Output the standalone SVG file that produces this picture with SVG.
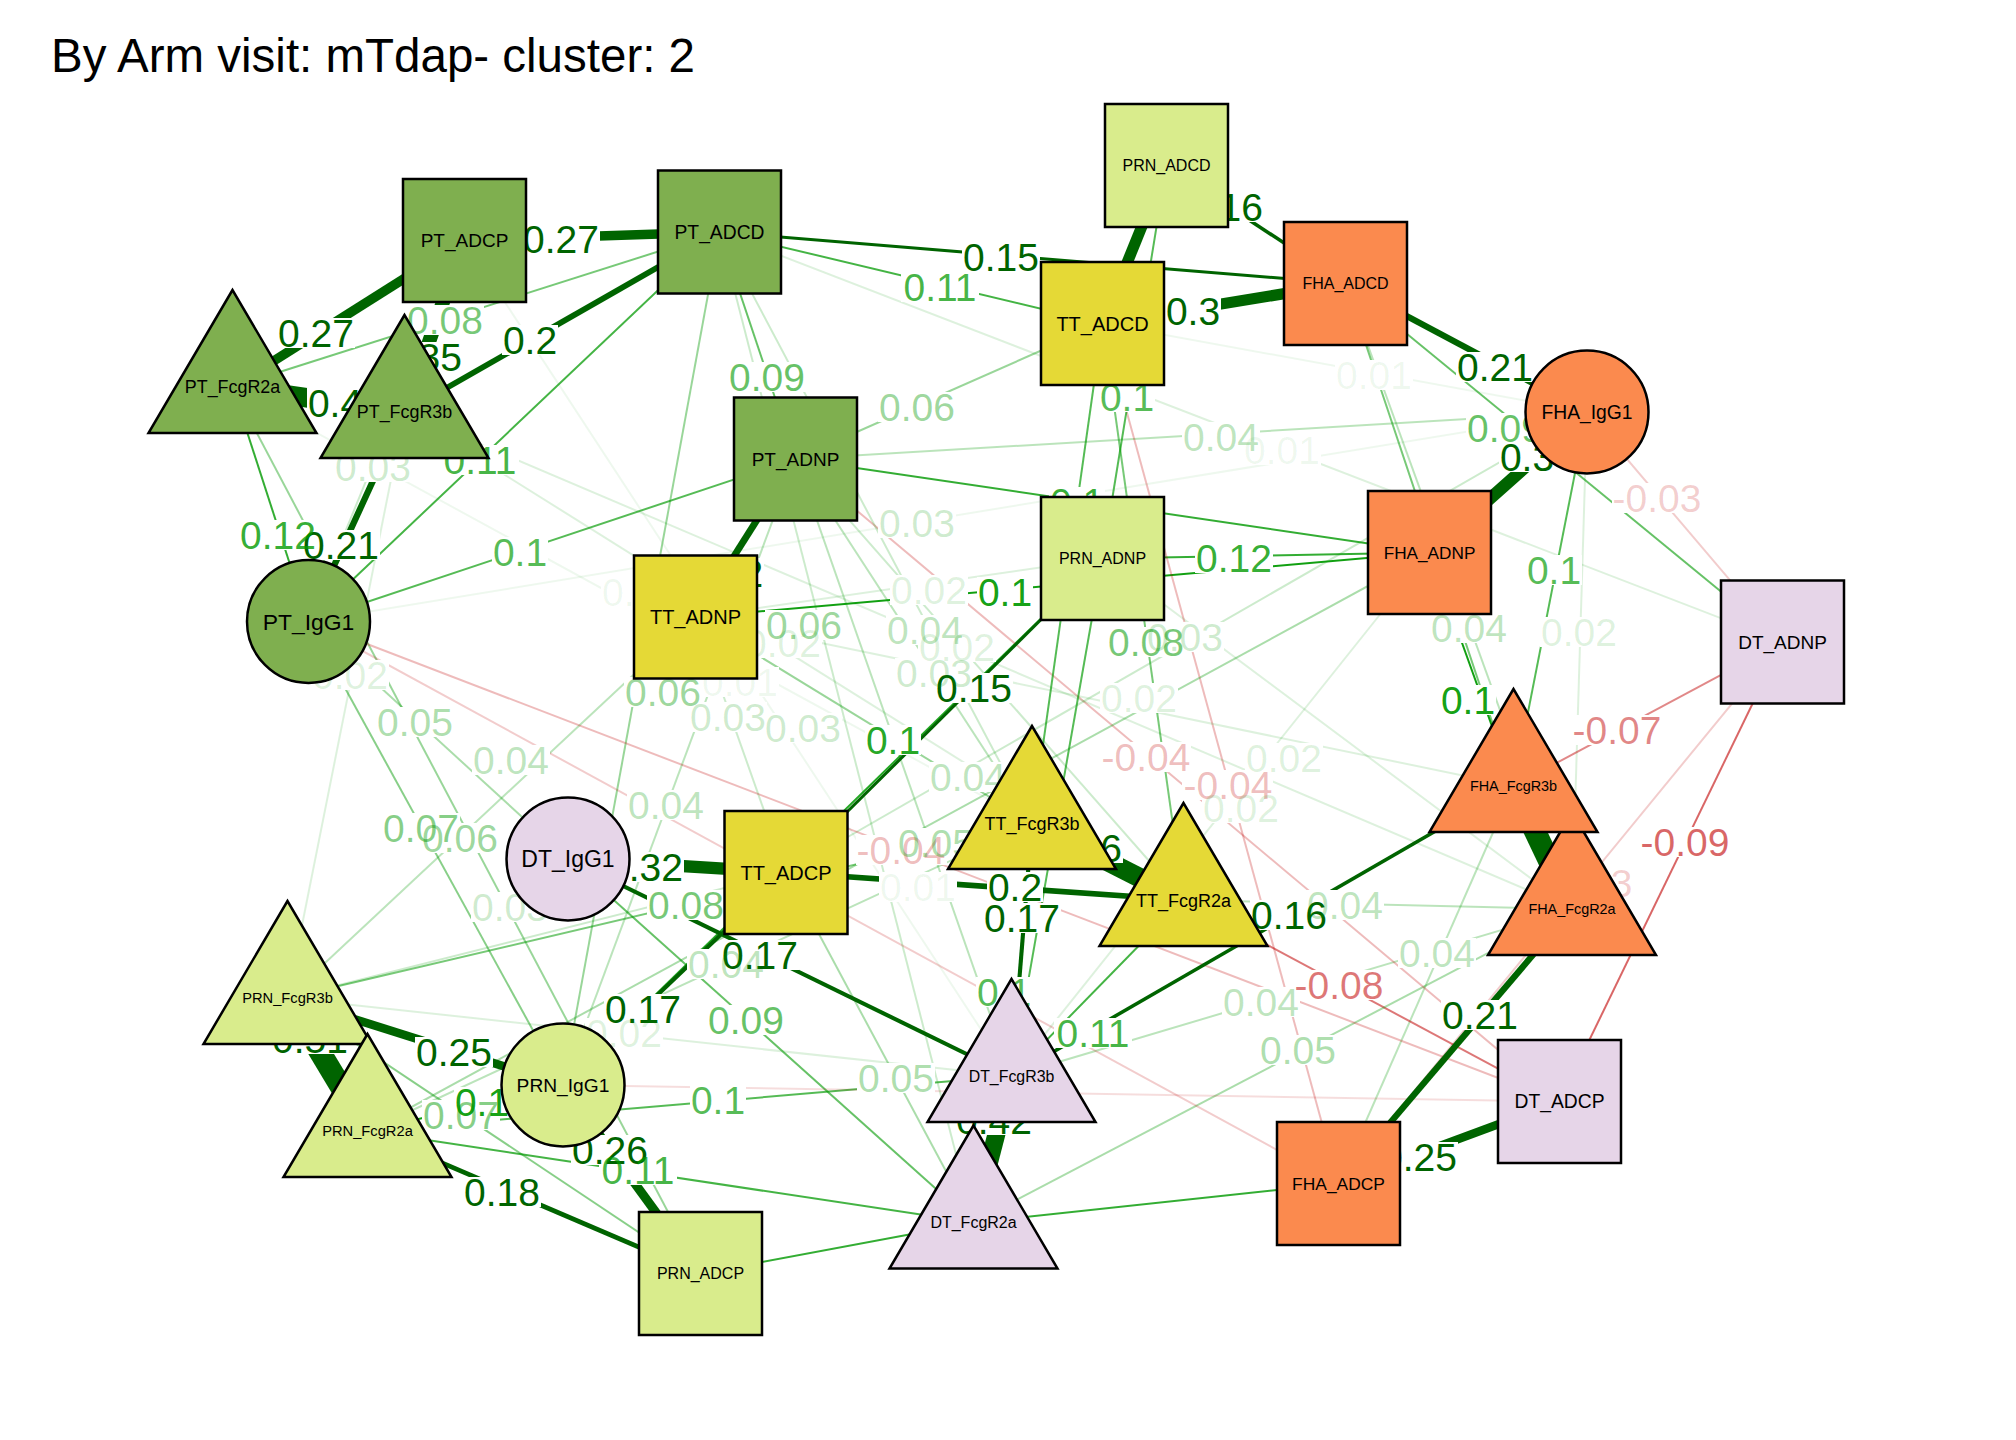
<svg xmlns="http://www.w3.org/2000/svg" width="2016" height="1440" viewBox="0 0 2016 1440">
<style>
.e{fill:none;stroke-linecap:butt}
.p{stroke:#009900;stroke-width:2}
.n{stroke:#BF0000;stroke-width:2}
.d{stroke:#006400}
.lb{fill:#fff}
.t{font-family:'Liberation Sans',Arial,sans-serif;font-size:39px;text-anchor:middle}
.tp{fill:#009900}
.tn{fill:#BF0000}
.td{fill:#006400}
.nl{font-family:'Liberation Sans',Arial,sans-serif;text-anchor:middle;fill:#000}
.nd{stroke:#000;stroke-width:2.5}
.pt{fill:#7FAF4F}
.tt{fill:#E5D936}
.prn{fill:#D9EC8C}
.fha{fill:#FB8A4E}
.dt{fill:#E6D5E8}
</style>
<rect width="2016" height="1440" fill="#fff"/>
<text x="51" y="72" font-family="'Liberation Sans',Arial,sans-serif" font-size="47.5" fill="#000">By Arm visit: mTdap- cluster: 2</text>
<g id="edges">
<line class="e p" x1="464.5" y1="240.5" x2="308.5" y2="621.5" stroke-opacity=".2"/>
<line class="e p" x1="464.5" y1="240.5" x2="1011.5" y2="1076" stroke-opacity=".067"/>
<line class="e p" x1="232.5" y1="387" x2="719.5" y2="232" stroke-opacity=".533"/>
<line class="e p" x1="719.5" y1="232" x2="1102.5" y2="323.5" stroke-opacity=".733"/>
<line class="e p" x1="719.5" y1="232" x2="795.5" y2="459" stroke-opacity=".6"/>
<line class="e p" x1="1102.5" y1="323.5" x2="1587" y2="412" stroke-opacity=".067"/>
<line class="e p" x1="795.5" y1="459" x2="1102.5" y2="323.5" stroke-opacity=".4"/>
<line class="e p" x1="1345.5" y1="283.5" x2="1782.5" y2="642" stroke-opacity=".6"/>
<line class="e p" x1="795.5" y1="459" x2="1587" y2="412" stroke-opacity=".267"/>
<line class="e p" x1="308.5" y1="621.5" x2="1587" y2="412" stroke-opacity=".067"/>
<line class="e p" x1="308.5" y1="621.5" x2="719.5" y2="232" stroke-opacity=".733"/>
<line class="e n" x1="1587" y1="412" x2="1782.5" y2="642" stroke-opacity=".2"/>
<line class="e p" x1="1587" y1="412" x2="1513.5" y2="786" stroke-opacity=".667"/>
<line class="e p" x1="1587" y1="412" x2="1572" y2="909" stroke-opacity=".133"/>
<line class="e p" x1="232.5" y1="387" x2="308.5" y2="621.5" stroke-opacity=".8"/>
<line class="e p" x1="308.5" y1="621.5" x2="795.5" y2="459" stroke-opacity=".667"/>
<line class="e p" x1="1102.5" y1="558.5" x2="1429.5" y2="552.5" stroke-opacity=".8"/>
<line class="e p" x1="695.5" y1="617" x2="1429.5" y2="552.5" stroke-opacity=".933"/>
<line class="e p" x1="695.5" y1="617" x2="1102.5" y2="558.5" stroke-opacity=".133"/>
<line class="e p" x1="308.5" y1="621.5" x2="568" y2="859" stroke-opacity=".333"/>
<line class="e p" x1="563" y1="1085" x2="1102.5" y2="558.5" stroke-opacity=".867"/>
<line class="e p" x1="568" y1="859" x2="973.5" y2="1222.5" stroke-opacity=".6"/>
<line class="e p" x1="367.5" y1="1131" x2="973.5" y2="1222.5" stroke-opacity=".733"/>
<line class="e p" x1="367.5" y1="1131" x2="1011.5" y2="1076" stroke-opacity=".667"/>
<line class="e p" x1="287.5" y1="998" x2="1011.5" y2="1076" stroke-opacity=".133"/>
<line class="e p" x1="786" y1="872.5" x2="973.5" y2="1222.5" stroke-opacity=".333"/>
<line class="e p" x1="1183.5" y1="900" x2="1011.5" y2="1076" stroke-opacity=".733"/>
<line class="e p" x1="1183.5" y1="900" x2="1572" y2="909" stroke-opacity=".267"/>
<line class="e p" x1="1338.5" y1="1183.5" x2="1513.5" y2="786" stroke-opacity=".267"/>
<line class="e n" x1="1183.5" y1="900" x2="1559.5" y2="1101.5" stroke-opacity=".533"/>
<line class="e p" x1="973.5" y1="1222.5" x2="1572" y2="909" stroke-opacity=".333"/>
<line class="e p" x1="1011.5" y1="1076" x2="1572" y2="909" stroke-opacity=".267"/>
<line class="e n" x1="1513.5" y1="786" x2="1782.5" y2="642" stroke-opacity=".467"/>
<line class="e n" x1="1782.5" y1="642" x2="1559.5" y2="1101.5" stroke-opacity=".6"/>
<line class="e n" x1="1338.5" y1="1183.5" x2="1782.5" y2="642" stroke-opacity=".2"/>
<line class="e p" x1="1429.5" y1="552.5" x2="1513.5" y2="786" stroke-opacity=".933"/>
<line class="e p" x1="1345.5" y1="283.5" x2="1572" y2="909" stroke-opacity=".267"/>
<line class="e p" x1="1345.5" y1="283.5" x2="1513.5" y2="786" stroke-opacity=".533"/>
<line class="e p" x1="1102.5" y1="558.5" x2="1572" y2="909" stroke-opacity=".133"/>
<line class="e n" x1="795.5" y1="459" x2="1559.5" y2="1101.5" stroke-opacity=".267"/>
<line class="e n" x1="1102.5" y1="323.5" x2="1338.5" y2="1183.5" stroke-opacity=".267"/>
<line class="e p" x1="1429.5" y1="552.5" x2="1011.5" y2="1076" stroke-opacity=".133"/>
<line class="e p" x1="695.5" y1="617" x2="1513.5" y2="786" stroke-opacity=".133"/>
<line class="e p" x1="1102.5" y1="323.5" x2="1183.5" y2="900" stroke-opacity=".533"/>
<line class="e p" x1="1587" y1="412" x2="786" y2="872.5" stroke-opacity=".2"/>
<line class="e p" x1="795.5" y1="459" x2="1429.5" y2="552.5" stroke-opacity=".8"/>
<line class="e p" x1="1102.5" y1="323.5" x2="1032" y2="823" stroke-opacity=".667"/>
<line class="e p" x1="1166.5" y1="165.5" x2="1102.5" y2="558.5" stroke-opacity=".667"/>
<line class="e p" x1="719.5" y1="232" x2="1032" y2="823" stroke-opacity=".2"/>
<line class="e p" x1="695.5" y1="617" x2="1032" y2="823" stroke-opacity=".4"/>
<line class="e p" x1="404.5" y1="412" x2="1183.5" y2="900" stroke-opacity=".133"/>
<line class="e p" x1="795.5" y1="459" x2="1032" y2="823" stroke-opacity=".267"/>
<line class="e p" x1="404.5" y1="412" x2="1572" y2="909" stroke-opacity=".133"/>
<line class="e p" x1="795.5" y1="459" x2="1183.5" y2="900" stroke-opacity=".2"/>
<line class="e p" x1="232.5" y1="387" x2="1032" y2="823" stroke-opacity=".067"/>
<line class="e p" x1="719.5" y1="232" x2="563" y2="1085" stroke-opacity=".4"/>
<line class="e p" x1="695.5" y1="617" x2="786" y2="872.5" stroke-opacity=".2"/>
<line class="e p" x1="719.5" y1="232" x2="973.5" y2="1222.5" stroke-opacity=".2"/>
<line class="e p" x1="795.5" y1="459" x2="563" y2="1085" stroke-opacity=".267"/>
<line class="e p" x1="287.5" y1="998" x2="695.5" y2="617" stroke-opacity=".267"/>
<line class="e p" x1="308.5" y1="621.5" x2="563" y2="1085" stroke-opacity=".467"/>
<line class="e p" x1="232.5" y1="387" x2="700.5" y2="1273.5" stroke-opacity=".4"/>
<line class="e p" x1="287.5" y1="998" x2="786" y2="872.5" stroke-opacity=".2"/>
<line class="e p" x1="287.5" y1="998" x2="1032" y2="823" stroke-opacity=".533"/>
<line class="e n" x1="308.5" y1="621.5" x2="1559.5" y2="1101.5" stroke-opacity=".267"/>
<line class="e p" x1="367.5" y1="1131" x2="1429.5" y2="552.5" stroke-opacity=".333"/>
<line class="e p" x1="568" y1="859" x2="1183.5" y2="900" stroke-opacity=".067"/>
<line class="e p" x1="795.5" y1="459" x2="1011.5" y2="1076" stroke-opacity=".267"/>
<line class="e p" x1="367.5" y1="1131" x2="1032" y2="823" stroke-opacity=".267"/>
<line class="e p" x1="404.5" y1="412" x2="287.5" y2="998" stroke-opacity=".133"/>
<line class="e p" x1="287.5" y1="998" x2="700.5" y2="1273.5" stroke-opacity=".467"/>
<line class="e p" x1="367.5" y1="1131" x2="563" y2="1085" stroke-opacity=".933"/>
<line class="e p" x1="1102.5" y1="558.5" x2="1011.5" y2="1076" stroke-opacity=".667"/>
<line class="e n" x1="308.5" y1="621.5" x2="1338.5" y2="1183.5" stroke-opacity=".2"/>
<line class="e n" x1="563" y1="1085" x2="1559.5" y2="1101.5" stroke-opacity=".133"/>
<line class="e p" x1="973.5" y1="1222.5" x2="1338.5" y2="1183.5" stroke-opacity=".8"/>
<line class="e p" x1="700.5" y1="1273.5" x2="973.5" y2="1222.5" stroke-opacity=".8"/>
<line class="e p" x1="719.5" y1="232" x2="1782.5" y2="642" stroke-opacity=".133"/>
<line class="e d" x1="464.5" y1="240.5" x2="719.5" y2="232" stroke-width="9.6"/>
<line class="e d" x1="464.5" y1="240.5" x2="232.5" y2="387" stroke-width="9.6"/>
<line class="e d" x1="464.5" y1="240.5" x2="404.5" y2="412" stroke-width="14"/>
<line class="e d" x1="404.5" y1="412" x2="719.5" y2="232" stroke-width="5.75"/>
<line class="e d" x1="232.5" y1="387" x2="404.5" y2="412" stroke-width="19.5"/>
<line class="e d" x1="1166.5" y1="165.5" x2="1345.5" y2="283.5" stroke-width="3.55"/>
<line class="e d" x1="719.5" y1="232" x2="1345.5" y2="283.5" stroke-width="3"/>
<line class="e d" x1="1102.5" y1="323.5" x2="1345.5" y2="283.5" stroke-width="11.25"/>
<line class="e d" x1="1345.5" y1="283.5" x2="1587" y2="412" stroke-width="6.3"/>
<line class="e d" x1="1166.5" y1="165.5" x2="1102.5" y2="323.5" stroke-width="11.25"/>
<line class="e d" x1="1429.5" y1="552.5" x2="1587" y2="412" stroke-width="12.35"/>
<line class="e d" x1="308.5" y1="621.5" x2="404.5" y2="412" stroke-width="6.3"/>
<line class="e d" x1="795.5" y1="459" x2="695.5" y2="617" stroke-width="6.85"/>
<line class="e d" x1="1102.5" y1="558.5" x2="786" y2="872.5" stroke-width="3"/>
<line class="e d" x1="568" y1="859" x2="786" y2="872.5" stroke-width="12.35"/>
<line class="e d" x1="786" y1="872.5" x2="1183.5" y2="900" stroke-width="5.75"/>
<line class="e d" x1="1032" y1="823" x2="1183.5" y2="900" stroke-width="19.5"/>
<line class="e d" x1="1032" y1="823" x2="1011.5" y2="1076" stroke-width="4.1"/>
<line class="e d" x1="568" y1="859" x2="1011.5" y2="1076" stroke-width="4.1"/>
<line class="e d" x1="563" y1="1085" x2="786" y2="872.5" stroke-width="4.1"/>
<line class="e d" x1="287.5" y1="998" x2="563" y2="1085" stroke-width="8.5"/>
<line class="e d" x1="287.5" y1="998" x2="367.5" y2="1131" stroke-width="22"/>
<line class="e d" x1="563" y1="1085" x2="700.5" y2="1273.5" stroke-width="9"/>
<line class="e d" x1="367.5" y1="1131" x2="700.5" y2="1273.5" stroke-width="4.65"/>
<line class="e d" x1="1011.5" y1="1076" x2="973.5" y2="1222.5" stroke-width="17.85"/>
<line class="e d" x1="1513.5" y1="786" x2="1011.5" y2="1076" stroke-width="3.55"/>
<line class="e d" x1="1338.5" y1="1183.5" x2="1572" y2="909" stroke-width="6.3"/>
<line class="e d" x1="1338.5" y1="1183.5" x2="1559.5" y2="1101.5" stroke-width="8.5"/>
<line class="e d" x1="1513.5" y1="786" x2="1572" y2="909" stroke-width="22"/>
</g>
<g id="edge-label-bg">
<rect class="lb" x="522" y="224" width="78" height="30"/>
<rect class="lb" x="277" y="318" width="78" height="30"/>
<rect class="lb" x="385" y="342" width="78" height="30"/>
<rect class="lb" x="502" y="325" width="56" height="30"/>
<rect class="lb" x="307" y="388" width="56" height="30"/>
<rect class="lb" x="1186" y="192" width="78" height="30"/>
<rect class="lb" x="962" y="242" width="78" height="30"/>
<rect class="lb" x="1165" y="296" width="56" height="30"/>
<rect class="lb" x="1456" y="352" width="78" height="30"/>
<rect class="lb" x="1499" y="442" width="56" height="30"/>
<rect class="lb" x="302" y="530" width="78" height="30"/>
<rect class="lb" x="708" y="558" width="56" height="30"/>
<rect class="lb" x="935" y="673" width="78" height="30"/>
<rect class="lb" x="606" y="852" width="78" height="30"/>
<rect class="lb" x="987" y="872" width="56" height="30"/>
<rect class="lb" x="1099" y="833" width="24" height="30"/>
<rect class="lb" x="983" y="903" width="78" height="30"/>
<rect class="lb" x="721" y="940" width="78" height="30"/>
<rect class="lb" x="604" y="994" width="78" height="30"/>
<rect class="lb" x="415" y="1037" width="78" height="30"/>
<rect class="lb" x="271" y="1024" width="78" height="30"/>
<rect class="lb" x="571" y="1135" width="78" height="30"/>
<rect class="lb" x="463" y="1177" width="78" height="30"/>
<rect class="lb" x="955" y="1105" width="78" height="30"/>
<rect class="lb" x="1250" y="900" width="78" height="30"/>
<rect class="lb" x="1441" y="1000" width="78" height="30"/>
<rect class="lb" x="1380" y="1142" width="78" height="30"/>
<rect class="lb" x="406" y="305" width="78" height="30"/>
<rect class="lb" x="901" y="272" width="78" height="30"/>
<rect class="lb" x="728" y="362" width="78" height="30"/>
<rect class="lb" x="1335" y="360" width="78" height="30"/>
<rect class="lb" x="878" y="392" width="78" height="30"/>
<rect class="lb" x="1466" y="413" width="78" height="30"/>
<rect class="lb" x="1182" y="422" width="78" height="30"/>
<rect class="lb" x="1243" y="435" width="78" height="30"/>
<rect class="lb" x="441" y="445" width="78" height="30"/>
<rect class="lb" x="1612" y="483" width="91" height="30"/>
<rect class="lb" x="1526" y="555" width="56" height="30"/>
<rect class="lb" x="1540" y="617" width="78" height="30"/>
<rect class="lb" x="239" y="520" width="78" height="30"/>
<rect class="lb" x="492" y="537" width="56" height="30"/>
<rect class="lb" x="1195" y="543" width="78" height="30"/>
<rect class="lb" x="977" y="577" width="56" height="30"/>
<rect class="lb" x="890" y="575" width="78" height="30"/>
<rect class="lb" x="376" y="707" width="78" height="30"/>
<rect class="lb" x="865" y="725" width="56" height="30"/>
<rect class="lb" x="707" y="1005" width="78" height="30"/>
<rect class="lb" x="599" y="1155" width="78" height="30"/>
<rect class="lb" x="690" y="1085" width="56" height="30"/>
<rect class="lb" x="585" y="1018" width="78" height="30"/>
<rect class="lb" x="857" y="1063" width="78" height="30"/>
<rect class="lb" x="1054" y="1018" width="78" height="30"/>
<rect class="lb" x="1306" y="890" width="78" height="30"/>
<rect class="lb" x="1398" y="938" width="78" height="30"/>
<rect class="lb" x="1293" y="970" width="91" height="30"/>
<rect class="lb" x="1259" y="1035" width="78" height="30"/>
<rect class="lb" x="1222" y="987" width="78" height="30"/>
<rect class="lb" x="1571" y="715" width="91" height="30"/>
<rect class="lb" x="1639" y="827" width="91" height="30"/>
<rect class="lb" x="1542" y="868" width="91" height="30"/>
<rect class="lb" x="1440" y="685" width="56" height="30"/>
<rect class="lb" x="1430" y="613" width="78" height="30"/>
<rect class="lb" x="1245" y="743" width="78" height="30"/>
<rect class="lb" x="1100" y="742" width="91" height="30"/>
<rect class="lb" x="1182" y="770" width="91" height="30"/>
<rect class="lb" x="1202" y="793" width="78" height="30"/>
<rect class="lb" x="1100" y="683" width="78" height="30"/>
<rect class="lb" x="1107" y="627" width="78" height="30"/>
<rect class="lb" x="1146" y="622" width="78" height="30"/>
<rect class="lb" x="1049" y="487" width="56" height="30"/>
<rect class="lb" x="1099" y="382" width="56" height="30"/>
<rect class="lb" x="878" y="508" width="78" height="30"/>
<rect class="lb" x="765" y="610" width="78" height="30"/>
<rect class="lb" x="744" y="628" width="78" height="30"/>
<rect class="lb" x="886" y="615" width="78" height="30"/>
<rect class="lb" x="918" y="632" width="78" height="30"/>
<rect class="lb" x="895" y="658" width="78" height="30"/>
<rect class="lb" x="601" y="577" width="78" height="30"/>
<rect class="lb" x="624" y="677" width="78" height="30"/>
<rect class="lb" x="701" y="667" width="78" height="30"/>
<rect class="lb" x="689" y="702" width="78" height="30"/>
<rect class="lb" x="764" y="713" width="78" height="30"/>
<rect class="lb" x="627" y="790" width="78" height="30"/>
<rect class="lb" x="472" y="745" width="78" height="30"/>
<rect class="lb" x="382" y="813" width="78" height="30"/>
<rect class="lb" x="421" y="823" width="78" height="30"/>
<rect class="lb" x="471" y="892" width="78" height="30"/>
<rect class="lb" x="647" y="890" width="78" height="30"/>
<rect class="lb" x="856" y="835" width="91" height="30"/>
<rect class="lb" x="897" y="828" width="78" height="30"/>
<rect class="lb" x="879" y="872" width="78" height="30"/>
<rect class="lb" x="929" y="762" width="78" height="30"/>
<rect class="lb" x="687" y="949" width="78" height="30"/>
<rect class="lb" x="311" y="660" width="78" height="30"/>
<rect class="lb" x="334" y="452" width="78" height="30"/>
<rect class="lb" x="422" y="1100" width="78" height="30"/>
<rect class="lb" x="454" y="1087" width="56" height="30"/>
<rect class="lb" x="976" y="977" width="56" height="30"/>
</g>
<g id="edge-labels" class="t">
<text class="td" x="561" y="253">0.27</text>
<text class="td" x="316" y="347">0.27</text>
<text class="td" x="424" y="371">0.35</text>
<text class="td" x="530" y="354">0.2</text>
<text class="td" x="335" y="417">0.4</text>
<text class="td" x="1225" y="221">0.16</text>
<text class="td" x="1001" y="271">0.15</text>
<text class="td" x="1193" y="325">0.3</text>
<text class="td" x="1495" y="381">0.21</text>
<text class="td" x="1527" y="471">0.3</text>
<text class="td" x="341" y="559">0.21</text>
<text class="td" x="736" y="587">0.2</text>
<text class="td" x="974" y="702">0.15</text>
<text class="td" x="645" y="881">0.32</text>
<text class="td" x="1015" y="901">0.2</text>
<text class="td" x="1111" y="862">6</text>
<text class="td" x="1022" y="932">0.17</text>
<text class="td" x="760" y="969">0.17</text>
<text class="td" x="643" y="1023">0.17</text>
<text class="td" x="454" y="1066">0.25</text>
<text class="td" x="310" y="1053">0.51</text>
<text class="td" x="610" y="1164">0.26</text>
<text class="td" x="502" y="1206">0.18</text>
<text class="td" x="994" y="1134">0.42</text>
<text class="td" x="1289" y="929">0.16</text>
<text class="td" x="1480" y="1029">0.21</text>
<text class="td" x="1419" y="1171">0.25</text>
<text class="tp" fill-opacity=".533" x="445" y="334">0.08</text>
<text class="tp" fill-opacity=".733" x="940" y="301">0.11</text>
<text class="tp" fill-opacity=".6" x="767" y="391">0.09</text>
<text class="tp" fill-opacity=".067" x="1374" y="389">0.01</text>
<text class="tp" fill-opacity=".4" x="917" y="421">0.06</text>
<text class="tp" fill-opacity=".6" x="1505" y="442">0.09</text>
<text class="tp" fill-opacity=".267" x="1221" y="451">0.04</text>
<text class="tp" fill-opacity=".067" x="1282" y="464">0.01</text>
<text class="tp" fill-opacity=".733" x="480" y="474">0.11</text>
<text class="tn" fill-opacity=".2" x="1657" y="512">-0.03</text>
<text class="tp" fill-opacity=".667" x="1554" y="584">0.1</text>
<text class="tp" fill-opacity=".133" x="1579" y="646">0.02</text>
<text class="tp" fill-opacity=".8" x="278" y="549">0.12</text>
<text class="tp" fill-opacity=".667" x="520" y="566">0.1</text>
<text class="tp" fill-opacity=".8" x="1234" y="572">0.12</text>
<text class="tp" fill-opacity=".933" x="1005" y="606">0.1</text>
<text class="tp" fill-opacity=".133" x="929" y="604">0.02</text>
<text class="tp" fill-opacity=".333" x="415" y="736">0.05</text>
<text class="tp" fill-opacity=".867" x="893" y="754">0.1</text>
<text class="tp" fill-opacity=".6" x="746" y="1034">0.09</text>
<text class="tp" fill-opacity=".733" x="638" y="1184">0.11</text>
<text class="tp" fill-opacity=".667" x="718" y="1114">0.1</text>
<text class="tp" fill-opacity=".133" x="624" y="1047">0.02</text>
<text class="tp" fill-opacity=".333" x="896" y="1092">0.05</text>
<text class="tp" fill-opacity=".733" x="1093" y="1047">0.11</text>
<text class="tp" fill-opacity=".267" x="1345" y="919">0.04</text>
<text class="tp" fill-opacity=".267" x="1437" y="967">0.04</text>
<text class="tn" fill-opacity=".533" x="1339" y="999">-0.08</text>
<text class="tp" fill-opacity=".333" x="1298" y="1064">0.05</text>
<text class="tp" fill-opacity=".267" x="1261" y="1016">0.04</text>
<text class="tn" fill-opacity=".467" x="1617" y="744">-0.07</text>
<text class="tn" fill-opacity=".6" x="1685" y="856">-0.09</text>
<text class="tn" fill-opacity=".2" x="1588" y="897">-0.03</text>
<text class="tp" fill-opacity=".933" x="1468" y="714">0.1</text>
<text class="tp" fill-opacity=".267" x="1469" y="642">0.04</text>
<text class="tp" fill-opacity=".133" x="1284" y="772">0.02</text>
<text class="tn" fill-opacity=".267" x="1146" y="771">-0.04</text>
<text class="tn" fill-opacity=".267" x="1228" y="799">-0.04</text>
<text class="tp" fill-opacity=".133" x="1241" y="822">0.02</text>
<text class="tp" fill-opacity=".133" x="1139" y="712">0.02</text>
<text class="tp" fill-opacity=".533" x="1146" y="656">0.08</text>
<text class="tp" fill-opacity=".2" x="1185" y="651">0.03</text>
<text class="tp" fill-opacity=".8" x="1077" y="516">0.1</text>
<text class="tp" fill-opacity=".667" x="1127" y="411">0.1</text>
<text class="tp" fill-opacity=".2" x="917" y="537">0.03</text>
<text class="tp" fill-opacity=".4" x="804" y="639">0.06</text>
<text class="tp" fill-opacity=".133" x="783" y="657">0.02</text>
<text class="tp" fill-opacity=".267" x="925" y="644">0.04</text>
<text class="tp" fill-opacity=".133" x="957" y="661">0.02</text>
<text class="tp" fill-opacity=".2" x="934" y="687">0.03</text>
<text class="tp" fill-opacity=".067" x="640" y="606">0.01</text>
<text class="tp" fill-opacity=".4" x="663" y="706">0.06</text>
<text class="tp" fill-opacity=".067" x="740" y="696">0.01</text>
<text class="tp" fill-opacity=".2" x="728" y="731">0.03</text>
<text class="tp" fill-opacity=".2" x="803" y="742">0.03</text>
<text class="tp" fill-opacity=".267" x="666" y="819">0.04</text>
<text class="tp" fill-opacity=".267" x="511" y="774">0.04</text>
<text class="tp" fill-opacity=".467" x="421" y="842">0.07</text>
<text class="tp" fill-opacity=".4" x="460" y="852">0.06</text>
<text class="tp" fill-opacity=".2" x="510" y="921">0.03</text>
<text class="tp" fill-opacity=".533" x="686" y="919">0.08</text>
<text class="tn" fill-opacity=".267" x="901" y="864">-0.04</text>
<text class="tp" fill-opacity=".333" x="936" y="857">0.05</text>
<text class="tp" fill-opacity=".067" x="918" y="901">0.01</text>
<text class="tp" fill-opacity=".267" x="968" y="791">0.04</text>
<text class="tp" fill-opacity=".267" x="726" y="978">0.04</text>
<text class="tp" fill-opacity=".133" x="350" y="689">0.02</text>
<text class="tp" fill-opacity=".2" x="373" y="481">0.03</text>
<text class="tp" fill-opacity=".467" x="461" y="1129">0.07</text>
<text class="tp" fill-opacity=".933" x="482" y="1116">0.1</text>
<text class="tp" fill-opacity=".667" x="1004" y="1006">0.1</text>
</g>
<g id="PT_ADCP"><rect class="nd pt" x="403" y="179" width="123" height="123"/><text class="nl" x="464.5" y="247.3" font-size="19">PT_ADCP</text></g>
<g id="PT_ADCD"><rect class="nd pt" x="658" y="170.5" width="123" height="123"/><text class="nl" x="719.5" y="239" font-size="19.3">PT_ADCD</text></g>
<g id="PT_ADNP"><rect class="nd pt" x="734" y="397.5" width="123" height="123"/><text class="nl" x="795.5" y="465.8" font-size="19">PT_ADNP</text></g>
<g id="PRN_ADCD"><rect class="nd prn" x="1105" y="104" width="123" height="123"/><text class="nl" x="1166.5" y="171.3" font-size="16">PRN_ADCD</text></g>
<g id="TT_ADCD"><rect class="nd tt" x="1041" y="262" width="123" height="123"/><text class="nl" x="1102.5" y="330.7" font-size="20">TT_ADCD</text></g>
<g id="FHA_ADCD"><rect class="nd fha" x="1284" y="222" width="123" height="123"/><text class="nl" x="1345.5" y="289.3" font-size="16">FHA_ADCD</text></g>
<g id="PRN_ADNP"><rect class="nd prn" x="1041" y="497" width="123" height="123"/><text class="nl" x="1102.5" y="564.3" font-size="16">PRN_ADNP</text></g>
<g id="FHA_ADNP"><rect class="nd fha" x="1368" y="491" width="123" height="123"/><text class="nl" x="1429.5" y="558.7" font-size="17.2">FHA_ADNP</text></g>
<g id="TT_ADNP"><rect class="nd tt" x="634" y="555.5" width="123" height="123"/><text class="nl" x="695.5" y="624.2" font-size="20">TT_ADNP</text></g>
<g id="DT_ADNP"><rect class="nd dt" x="1721" y="580.5" width="123" height="123"/><text class="nl" x="1782.5" y="648.8" font-size="19">DT_ADNP</text></g>
<g id="TT_ADCP"><rect class="nd tt" x="724.5" y="811" width="123" height="123"/><text class="nl" x="786" y="879.7" font-size="20">TT_ADCP</text></g>
<g id="FHA_ADCP"><rect class="nd fha" x="1277" y="1122" width="123" height="123"/><text class="nl" x="1338.5" y="1189.8" font-size="17.4">FHA_ADCP</text></g>
<g id="DT_ADCP"><rect class="nd dt" x="1498" y="1040" width="123" height="123"/><text class="nl" x="1559.5" y="1108.4" font-size="19.3">DT_ADCP</text></g>
<g id="PRN_ADCP"><rect class="nd prn" x="639" y="1212" width="123" height="123"/><text class="nl" x="700.5" y="1279.3" font-size="16">PRN_ADCP</text></g>
<g id="PT_IgG1"><circle class="nd pt" cx="308.5" cy="621.5" r="61.5"/><text class="nl" x="308.5" y="629.7" font-size="22.9">PT_IgG1</text></g>
<g id="FHA_IgG1"><circle class="nd fha" cx="1587" cy="412" r="61.5"/><text class="nl" x="1587" y="419" font-size="19.3">FHA_IgG1</text></g>
<g id="DT_IgG1"><circle class="nd dt" cx="568" cy="859" r="61.5"/><text class="nl" x="568" y="867.3" font-size="23">DT_IgG1</text></g>
<g id="PRN_IgG1"><circle class="nd prn" cx="563" cy="1085" r="61.5"/><text class="nl" x="563" y="1091.9" font-size="19.2">PRN_IgG1</text></g>
<g id="PT_FcgR2a"><polygon class="nd pt" points="232.5,290 148.5,433 316.5,433"/><text class="nl" x="232.5" y="393.4" font-size="17.9">PT_FcgR2a</text></g>
<g id="PT_FcgR3b"><polygon class="nd pt" points="404.5,315 320.5,458 488.5,458"/><text class="nl" x="404.5" y="418.4" font-size="17.9">PT_FcgR3b</text></g>
<g id="TT_FcgR3b"><polygon class="nd tt" points="1032,726 948,869 1116,869"/><text class="nl" x="1032" y="829.5" font-size="18">TT_FcgR3b</text></g>
<g id="TT_FcgR2a"><polygon class="nd tt" points="1183.5,803 1099.5,946 1267.5,946"/><text class="nl" x="1183.5" y="906.5" font-size="18">TT_FcgR2a</text></g>
<g id="FHA_FcgR2a"><polygon class="nd fha" points="1572,812 1488,955 1656,955"/><text class="nl" x="1572" y="914.2" font-size="14.4">FHA_FcgR2a</text></g>
<g id="FHA_FcgR3b"><polygon class="nd fha" points="1513.5,689 1429.5,832 1597.5,832"/><text class="nl" x="1513.5" y="791.2" font-size="14.4">FHA_FcgR3b</text></g>
<g id="PRN_FcgR3b"><polygon class="nd prn" points="287.5,901 203.5,1044 371.5,1044"/><text class="nl" x="287.5" y="1003.3" font-size="14.7">PRN_FcgR3b</text></g>
<g id="PRN_FcgR2a"><polygon class="nd prn" points="367.5,1034 283.5,1177 451.5,1177"/><text class="nl" x="367.5" y="1136.3" font-size="14.7">PRN_FcgR2a</text></g>
<g id="DT_FcgR3b"><polygon class="nd dt" points="1011.5,979 927.5,1122 1095.5,1122"/><text class="nl" x="1011.5" y="1081.7" font-size="15.9">DT_FcgR3b</text></g>
<g id="DT_FcgR2a"><polygon class="nd dt" points="973.5,1125.5 889.5,1268.5 1057.5,1268.5"/><text class="nl" x="973.5" y="1228.3" font-size="16">DT_FcgR2a</text></g>
</svg>
